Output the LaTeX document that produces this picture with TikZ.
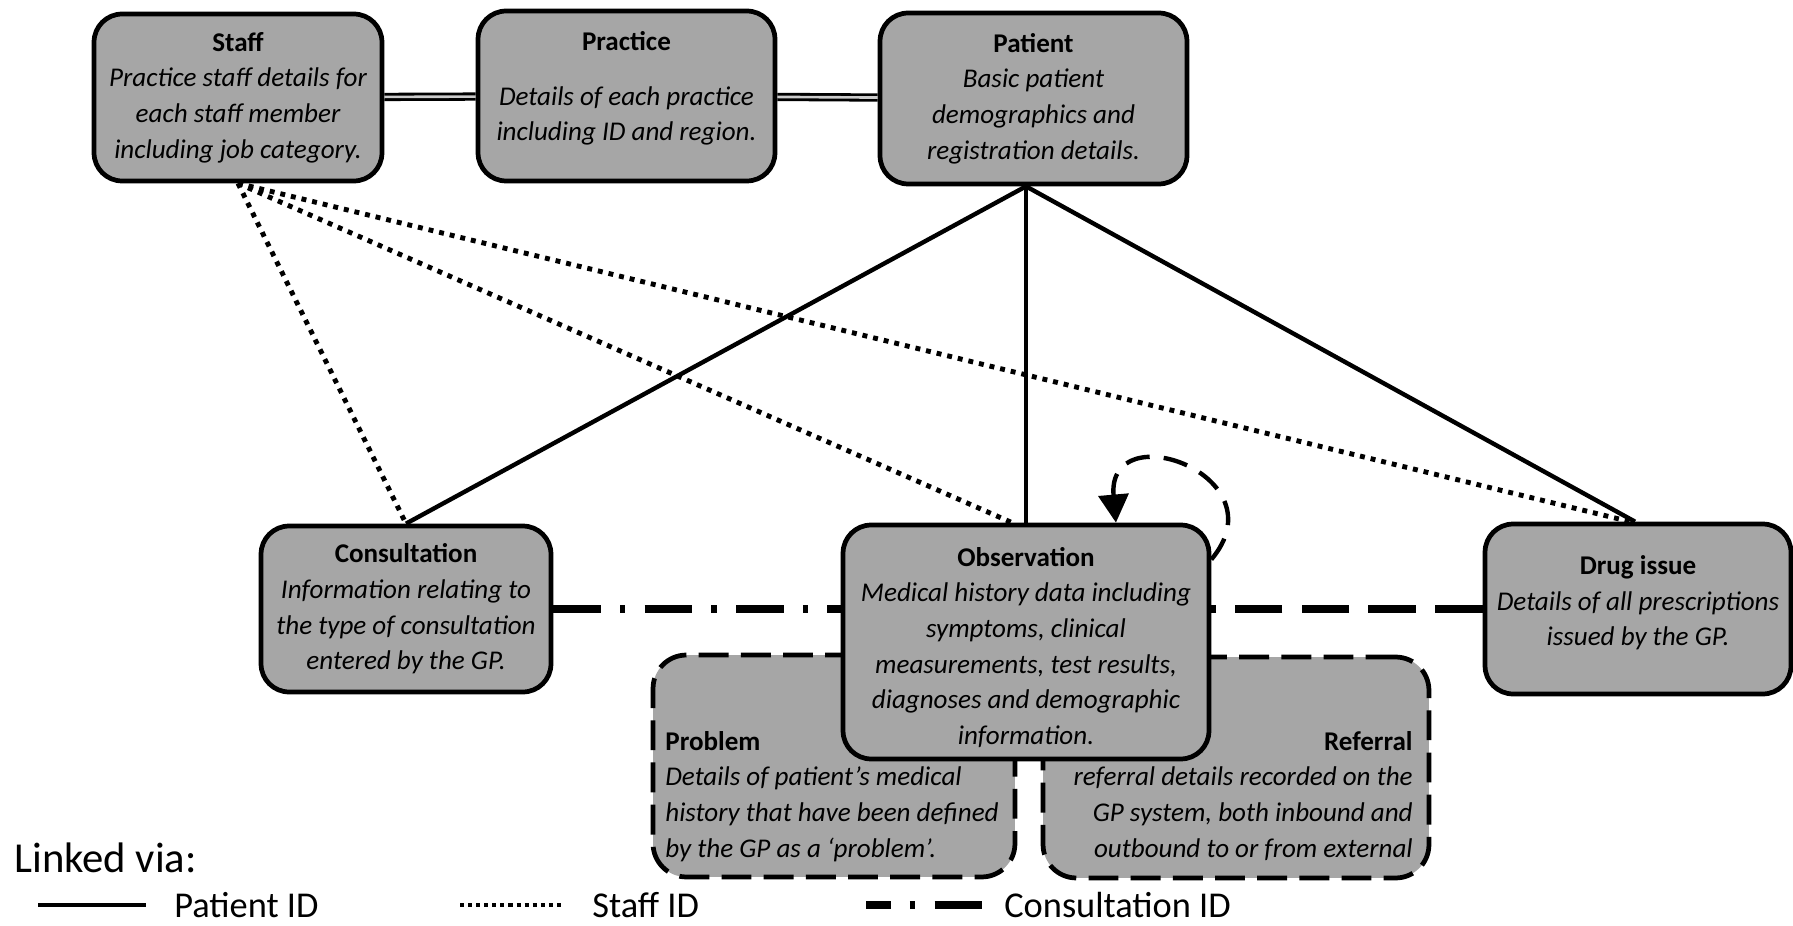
\documentclass[tikz,border=0pt]{standalone}
\usepackage{fontspec}
\setmainfont{Carlito}
\usepackage{tikz}
\usetikzlibrary{arrows.meta,calc,positioning}
\definecolor{boxgray}{RGB}{166,166,166}
\newcommand{\etitle}[1]{{\upshape\bfseries #1}}
\tikzset{%
	entity/.style     = {draw, line width=2.7pt, fill=boxgray, rounded corners=16pt, inner sep=0pt, align=center, font=\fontsize{15.4}{20.3}\selectfont\itshape}, % Data table
	subentity/.style  = {entity, dash pattern=on 17pt off 7pt, rounded corners=19pt}, % Table hanging under Observation
	etext/.style      = {inner sep=0pt, font=\fontsize{15.4}{20.3}\selectfont\itshape}, % Loose table text
	practicelink/.style = {line width=1.6pt, double=gray!40, double distance=1.5pt}, % Practice ID
	patientid/.style  = {line width=2.5pt}, % Patient ID
	staffid/.style    = {line width=2.8pt, dash pattern=on 2.8pt off 3.4pt}, % Staff ID
	consultid/.style  = {line width=4pt, dash pattern=on 27pt off 11pt on 3pt off 11pt}, % Consultation ID
	consultdash/.style = {line width=4pt, dash pattern=on 27pt off 11pt}, % Consultation ID
	selfref/.style    = {line width=2.5pt, dash pattern=on 14pt off 8pt, -{Triangle[width=17pt,length=16pt]}}, % Observation to Observation
	legendtext/.style = {inner sep=0pt, anchor=west, font=\fontsize{20.7}{24}\selectfont}, % Legend
}

\begin{document}
\begin{tikzpicture}[x=0.02cm, y=0.02cm]
		\useasboundingbox (0,0) rectangle (1793,-926);
		\node[subentity, minimum width=7.24cm, minimum height=4.44cm] (problem) at (834,-766) {};
		\node[subentity, minimum width=7.72cm, minimum height=4.42cm] (referral) at (1236,-767.5) {};
		\node[etext, align=left, anchor=base west] (problemtext) at (665,-857) {\etitle{Problem}\\Details of patient’s medical\\history that have been defined\\by the GP as a ‘problem’.};
		\node[etext, align=right, anchor=base east] (referraltext) at (1413,-857) {\etitle{Referral}\\referral details recorded on the\\GP system, both inbound and\\outbound to or from external};
		\node[entity, minimum width=5.76cm, minimum height=3.34cm] (staff) at (238,-97.5) {\etitle{Staff}\\Practice staff details for\\each staff member\\including job category.};
		\node[entity, minimum width=5.94cm, minimum height=3.4cm] (practice) at (626.5,-96) {\etitle{Practice}\\[11pt]Details of each practice\\including ID and region.\\[-9pt]\mbox{}};
		\node[entity, minimum width=6.14cm, minimum height=3.42cm] (patient) at (1033.5,-98.5) {\etitle{Patient}\\Basic patient\\demographics and\\registration details.};
		\node[entity, minimum width=5.8cm, minimum height=3.32cm] (consultation) at (406,-609) {\etitle{Consultation}\\Information relating to\\the type of consultation\\entered by the GP.};
		\node[entity, minimum width=7.32cm, minimum height=4.68cm] (observation) at (1026,-642) {\mbox{}\\[-3.5pt]\etitle{Observation}\\Medical history data including\\symptoms, clinical\\measurements, test results,\\diagnoses and demographic\\information.};
		\node[entity, minimum width=6.12cm, minimum height=3.4cm] (drug) at (1638,-609) {\etitle{Drug issue}\\Details of all prescriptions\\issued by the GP.\\[-11pt]\mbox{}};
		\coordinate (hub) at (patient.south -| observation.north);
		\draw[practicelink] (staff) -- (practice);
		\draw[practicelink] (practice) -- (patient);
		\draw[patientid] (hub) -- (consultation.north);
		\draw[patientid] (hub) -- (observation.north);
		\draw[patientid] (hub) -- ($(drug.north)+(-3,0)$);
		\draw[staffid] (staff.south) -- (consultation.north);
		\draw[staffid] (staff.south) -- ($(observation.north)+(-14,0)$);
		\draw[staffid] (staff.south) -- ($(drug.north)+(-8,0)$);
		\draw[consultid] (consultation.east) -- (consultation.east -| observation.west);
		\draw[consultdash] (drug.west) -- (drug.west -| observation.east);
		\draw[selfref] (observation.24) .. controls +(50:110) and +(95:110) .. (observation.53);
		% legend
		\node[legendtext, font=\fontsize{24.3}{28}\selectfont] (linked) at (14,-858) {Linked via:};
		\coordinate (pidA) at (38,-905);
		\coordinate (pidB) at (146,-905);
		\coordinate (sidA) at (460,-905);
		\coordinate (sidB) at (563,-905);
		\coordinate (cidA) at (866,-905);
		\coordinate (cidB) at (982,-905);
		\draw[patientid, line width=2.8pt] (pidA) -- (pidB);
		\draw[staffid, line width=2.3pt, dash pattern=on 2.3pt off 2.3pt] (sidA) -- (sidB);
		\draw[consultid, dash phase=13pt] (cidA) -- (cidB);
		\node[legendtext, right=0.56cm of pidB] (pidtext) {Patient ID};
		\node[legendtext, right=0.58cm of sidB] (sidtext) {Staff ID};
		\node[legendtext, right=0.44cm of cidB] (cidtext) {Consultation ID};
		\end{tikzpicture}
\end{document}
